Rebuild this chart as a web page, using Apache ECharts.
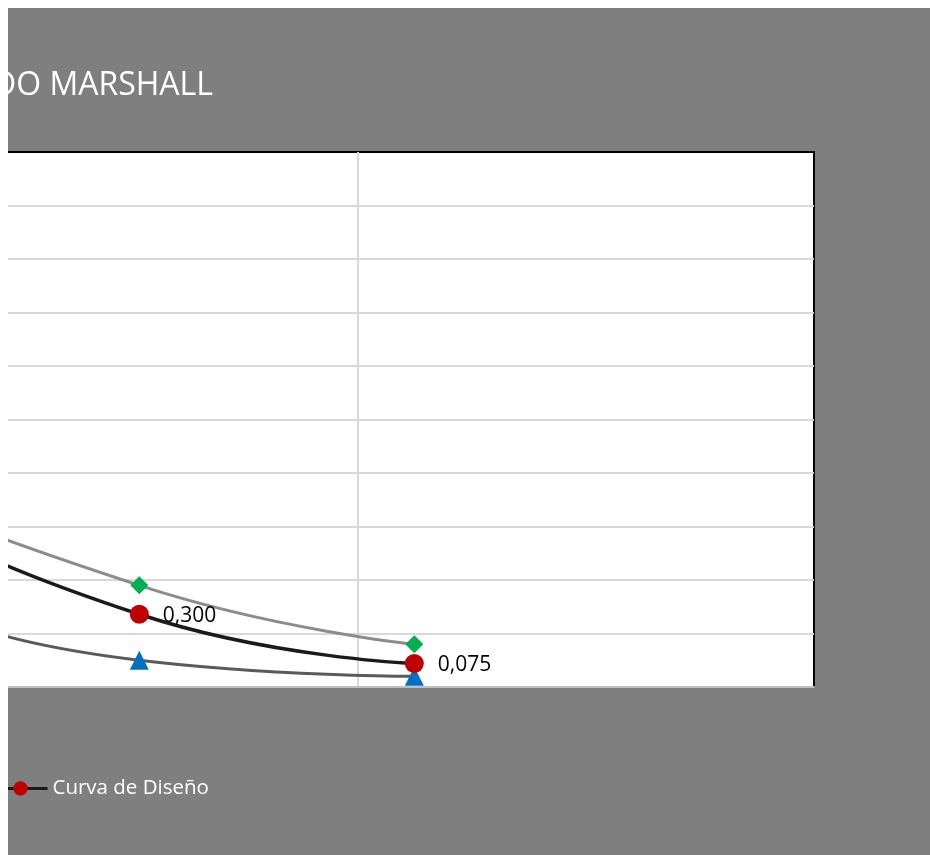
<!DOCTYPE html>
<html>
<head>
<meta charset="utf-8">
<script src="https://cdn.jsdelivr.net/npm/echarts@6/dist/echarts.min.js"></script>
<style>
  html, body { margin: 0; padding: 0; background: #ffffff; }
  #chart { position: absolute; left: 8px; top: 8px; width: 922px; height: 847px; }
</style>
</head>
<body>
<div id="chart"></div>
<script>
// Sieve openings (mm) and percentage passing for each curve
const sieveSizes   = [25, 19, 9.5, 4.75, 2.36, 0.3, 0.075];
const upperLimit   = [100, 100, 80, 65, 50, 19, 8];
const lowerLimit   = [100, 90, 56, 38, 29, 5, 2];
const designCurve  = [100, 96, 70, 55, 46.5, 13.6, 4.4];

const titleText = 'CURVA GRANULOMÉTRICA - MÉTODO MARSHALL';
const designName = 'Curva de Diseño';
const upperName = 'Límite Superior';
const lowerName = 'Límite Inferior';

const pairs = vals => sieveSizes.map((s, i) => [s, vals[i]]);
const fmtSize = v => v.toFixed(3).replace('.', ',');

const chart = echarts.init(document.getElementById('chart'), null, { renderer: 'canvas' });

const FONT = '"Open Sans", "DejaVu Sans", sans-serif';

chart.setOption({
  backgroundColor: '#7f7f7f',
  animation: false,
  title: {
    text: titleText,
    right: 717,
    top: 62,
    padding: 0,
    textStyle: { color: '#ffffff', fontFamily: FONT, fontWeight: 'normal', fontSize: 32, lineHeight: 32 }
  },
  legend: {
    data: [designName],
    left: -16,
    top: 770,
    padding: 0,
    itemWidth: 54,
    itemHeight: 18,
    lineStyle: { width: 3, color: '#1a1a1a' },
    textStyle: { color: '#ffffff', fontFamily: FONT, fontSize: 20.5, lineHeight: 20 }
  },
  grid: {
    left: -1021,
    right: 116,
    top: 144,
    bottom: 168,
    containLabel: false,
    outerBoundsMode: 'none',
    show: true,
    backgroundColor: '#ffffff',
    borderColor: '#000000',
    borderWidth: 2
  },
  xAxis: {
    type: 'log',
    logBase: 10,
    min: 0.01,
    max: 100,
    inverse: true,
    axisLine: { show: true, onZero: false, lineStyle: { color: '#bfbfbf', width: 2 } },
    axisTick: { show: false },
    axisLabel: { show: false },
    splitLine: { show: true, showMinLine: false, showMaxLine: false, lineStyle: { color: '#d9d9d9', width: 2 } }
  },
  yAxis: {
    type: 'value',
    min: 0,
    max: 100,
    interval: 10,
    axisLine: { show: false },
    axisTick: { show: false },
    axisLabel: { show: false },
    splitLine: { show: true, showMinLine: false, showMaxLine: false, lineStyle: { color: '#d9d9d9', width: 2 } }
  },
  series: [
    {
      name: lowerName,
      type: 'line',
      data: pairs(lowerLimit),
      smooth: 0.5,
      symbol: 'triangle',
      symbolSize: 19,
      lineStyle: { color: '#5a5a5a', width: 3 },
      itemStyle: { color: '#0070c0' },
      z: 2
    },
    {
      name: upperName,
      type: 'line',
      data: pairs(upperLimit),
      smooth: 0.5,
      symbol: 'diamond',
      symbolSize: 18,
      lineStyle: { color: '#8c8c8c', width: 3 },
      itemStyle: { color: '#00b050' },
      z: 3
    },
    {
      name: designName,
      type: 'line',
      data: pairs(designCurve),
      smooth: 0.5,
      symbol: 'circle',
      symbolSize: 19,
      lineStyle: { color: '#1a1a1a', width: 3.5 },
      itemStyle: { color: '#c00000' },
      label: {
        show: true,
        position: 'right',
        distance: 14,
        offset: [0, 2],
        color: '#000000',
        fontFamily: FONT,
        fontSize: 21,
        formatter: p => fmtSize(p.value[0])
      },
      z: 4
    }
  ]
});
</script>
</body>
</html>
